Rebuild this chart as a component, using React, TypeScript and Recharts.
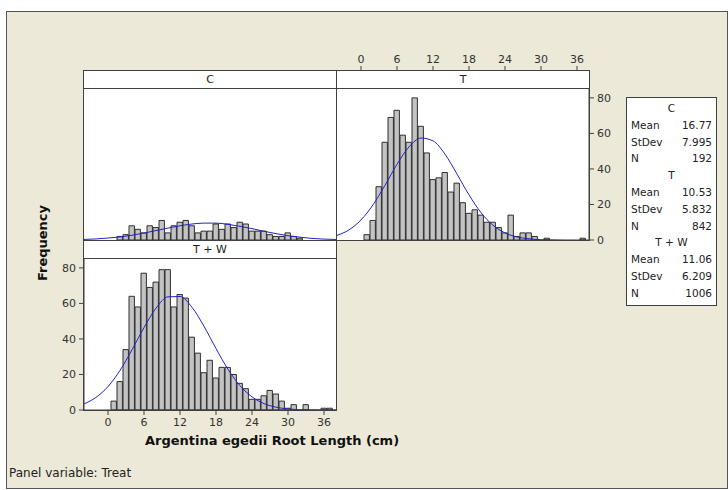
import React from 'react';
import { ComposedChart, Bar, Line, XAxis, YAxis } from 'recharts';

// Histogram bin midpoints (cm)
const binMid = [1,2,3,4,5,6,7,8,9,10,11,12,13,14,15,16,17,18,19,20,21,22,23,24,25,26,27,28,29,30,31,32,33,34,35,36,37];
// Frequencies per bin, by panel
const countC = [0,2,3,8,6,4,8,7,11,4,8,10,11,8,4,5,5,9,6,9,7,10,9,5,5,5,3,2,2,4,2,1,0,0,0,0,0];
const countT = [3,11,30,55,69,73,59,55,80,64,49,34,35,38,27,32,21,15,17,14,10,10,7,4,14,2,4,4,2,0,1,0,0,0,0,0,1];
const countTW = [5,16,34,64,58,77,69,72,79,79,58,65,63,41,32,21,28,18,24,24,20,15,12,6,6,8,11,9,5,1,3,0,3,0,0,1,1];

// Fitted normal curves
const curveX = [-4,-2,0,2,4,6,8,10,12,14,16,18,20,22,24,26,28,30,32,34,36,38];
const curveC = [0.3,0.6,1.1,1.7,2.7,3.9,5.3,6.7,8.0,9.0,9.5,9.5,8.8,7.7,6.4,4.9,3.6,2.4,1.6,0.9,0.5,0.3];
const curveT = [2.6,5.7,11.3,19.8,30.8,42.6,52.4,57.4,55.8,48.3,37.1,25.4,15.4,8.3,4.0,1.7,0.7,0.2,0.1,0,0,0];
const curveTW = [3.4,7.1,13.2,22.3,33.9,46.4,57.3,63.7,63.9,57.8,47.1,34.6,22.9,13.7,7.4,3.6,1.6,0.6,0.2,0.1,0,0];

const xTicks = [0,6,12,18,24,30,36];
const yTicks = [0,20,40,60,80];

const legendGroups = [
  { name: 'C', mean: '16.77', sd: '7.995', n: '192' },
  { name: 'T', mean: '10.53', sd: '5.832', n: '842' },
  { name: 'T + W', mean: '11.06', sd: '6.209', n: '1006' },
];

const toBins = (counts: number[]) =>
  binMid.map((x, i) => ({ x, n: counts[i] })).filter((d) => d.n > 0);
const toCurve = (vals: number[]) => curveX.map((x, i) => ({ x, y: vals[i] }));

const FONT = '"DejaVu Sans", Verdana, sans-serif';
const BG = '#ECE9D8';
const EDGE = '#404040';
const BAR_FILL = '#C3C3C3';
const BAR_EDGE = '#2e2e2e';
const CURVE = '#2323C8';
const TICK = { fontSize: 11, fill: '#333', fontFamily: FONT };

const PLOT_W = 252;
const PLOT_H = 151;

function PanelBox({ left, top, label }: { left: number; top: number; label: string }) {
  return (
    <div
      style={{
        position: 'absolute', left, top, width: 254, height: 171, boxSizing: 'border-box',
        border: `1px solid ${EDGE}`, background: '#fff',
      }}
    >
      <div
        style={{
          height: 18, boxSizing: 'border-box', borderBottom: `1px solid ${EDGE}`,
          textAlign: 'center', fontSize: 11, lineHeight: '17px', color: '#222', fontFamily: FONT,
        }}
      >
        {label}
      </div>
    </div>
  );
}

function series(counts: number[], curve: number[]) {
  return [
    <Bar key="b" dataKey="n" barSize={6} fill={BAR_FILL} stroke={BAR_EDGE} strokeWidth={1} isAnimationActive={false} />,
    <Line key="l" data={toCurve(curve)} dataKey="y" type="monotone" stroke={CURVE} strokeWidth={1} dot={false} activeDot={false} isAnimationActive={false} />,
  ];
}

export default function App() {
  const m0 = { top: 0, right: 0, bottom: 0, left: 0 };
  return (
    <div style={{ position: 'absolute', left: 0, top: 0, width: 728, height: 490, background: '#fff', fontFamily: FONT, overflow: 'hidden' }}>
      <div style={{ position: 'absolute', left: 6, top: 11, width: 722, height: 478, boxSizing: 'border-box', border: '1px solid #555', background: BG }} />

      <PanelBox left={83} top={70} label="C" />
      <PanelBox left={336} top={70} label="T" />
      <PanelBox left={83} top={240} label="T + W" />

      {/* Top axis for T column */}
      <div style={{ position: 'absolute', left: 337, top: 39 }}>
        <ComposedChart width={PLOT_W} height={34} data={toBins(countT)} margin={m0}>
          <XAxis type="number" dataKey="x" orientation="top" domain={[-4, 38]} ticks={xTicks} allowDataOverflow height={32}
            axisLine={false} tickSize={5} tickMargin={3} tick={TICK} tickLine={{ stroke: EDGE }} interval={0} />
          <YAxis hide domain={[0, 85]} />
          <Line dataKey="n" stroke="none" dot={false} activeDot={false} isAnimationActive={false} />
        </ComposedChart>
      </div>

      {/* C panel */}
      <div style={{ position: 'absolute', left: 84, top: 89 }}>
        <ComposedChart width={PLOT_W} height={PLOT_H} data={toBins(countC)} margin={m0}>
          <XAxis type="number" dataKey="x" domain={[-4, 38]} hide allowDataOverflow />
          <YAxis domain={[0, 85]} hide allowDataOverflow />
          {series(countC, curveC)}
        </ComposedChart>
      </div>

      {/* T panel */}
      <div style={{ position: 'absolute', left: 337, top: 81 }}>
        <ComposedChart width={PLOT_W + 32} height={PLOT_H + 16} data={toBins(countT)} margin={{ top: 8, right: 0, bottom: 8, left: 0 }}>
          <XAxis type="number" dataKey="x" domain={[-4, 38]} hide allowDataOverflow />
          <YAxis orientation="right" width={32} domain={[0, 85]} ticks={yTicks} allowDataOverflow interval={0}
            axisLine={{ stroke: EDGE }} tickLine={{ stroke: EDGE }} tickSize={5} tickMargin={3} tick={{ ...TICK, textAnchor: 'start' }} />
          {series(countT, curveT)}
        </ComposedChart>
      </div>

      {/* T + W panel */}
      <div style={{ position: 'absolute', left: 44, top: 251 }}>
        <ComposedChart width={PLOT_W + 40} height={PLOT_H + 36} data={toBins(countTW)} margin={{ top: 8, right: 0, bottom: 0, left: 0 }}>
          <XAxis type="number" dataKey="x" domain={[-4, 38]} ticks={xTicks} allowDataOverflow height={28} interval={0}
            axisLine={{ stroke: EDGE }} tickLine={{ stroke: EDGE }} tickSize={5} tickMargin={3} tick={TICK} />
          <YAxis width={40} domain={[0, 85]} ticks={yTicks} allowDataOverflow interval={0}
            axisLine={{ stroke: EDGE }} tickLine={{ stroke: EDGE }} tickSize={5} tickMargin={3} tick={TICK} />
          {series(countTW, curveTW)}
        </ComposedChart>
      </div>

      {/* Axis titles */}
      <div style={{ position: 'absolute', left: 42, top: 243, transform: 'translate(-50%, -50%) rotate(-90deg)', fontWeight: 'bold', fontSize: 13, color: '#111', whiteSpace: 'nowrap' }}>
        Frequency
      </div>
      <div style={{ position: 'absolute', left: 272, top: 440, transform: 'translate(-50%, -50%)', fontWeight: 'bold', fontSize: 13, color: '#111', whiteSpace: 'nowrap' }}>
        Argentina egedii Root Length (cm)
      </div>
      <div style={{ position: 'absolute', left: 9, top: 473, transform: 'translateY(-50%)', fontSize: 12, color: '#222', whiteSpace: 'nowrap' }}>
        Panel variable: Treat
      </div>

      {/* Summary box */}
      <div style={{ position: 'absolute', left: 626, top: 97, width: 91, boxSizing: 'border-box', border: `1px solid ${EDGE}`, background: '#fff', padding: '2px 4px 3px 4px', fontSize: 10.5, color: '#222', lineHeight: '16.8px' }}>
        {legendGroups.map((g) => (
          <div key={g.name}>
            <div style={{ textAlign: 'center' }}>{g.name}</div>
            <div style={{ display: 'flex', justifyContent: 'space-between' }}><span>Mean</span><span>{g.mean}</span></div>
            <div style={{ display: 'flex', justifyContent: 'space-between' }}><span>StDev</span><span>{g.sd}</span></div>
            <div style={{ display: 'flex', justifyContent: 'space-between' }}><span>N</span><span>{g.n}</span></div>
          </div>
        ))}
      </div>
    </div>
  );
}
